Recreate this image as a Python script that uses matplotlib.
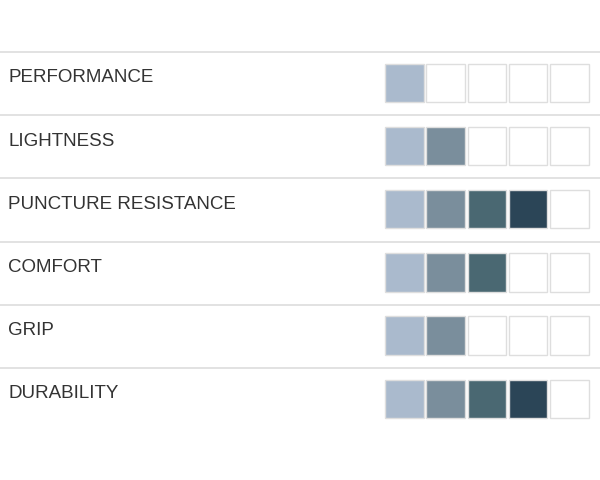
import matplotlib
matplotlib.use("Agg")
import matplotlib.pyplot as plt
from matplotlib.patches import Rectangle

# Data
categories = ["PERFORMANCE", "LIGHTNESS", "PUNCTURE RESISTANCE", "COMFORT", "GRIP", "DURABILITY"]
ratings = [1, 2, 4, 3, 2, 4]
max_rating = 5
level_colors = ["#aabacd", "#7a8e9c", "#4a6872", "#2b4557", "#1f3444"]

# Layout (pixel units)
W, H = 600, 481
row_top = 53
row_pitch = 63.2
box_x0 = 385
box_pitch = 41.3
box_size = 38.5

fig = plt.figure(figsize=(W / 100, H / 100), dpi=100)
ax = fig.add_axes([0, 0, 1, 1])
ax.set_xlim(0, W)
ax.set_ylim(H, 0)
ax.axis("off")

for i, (name, score) in enumerate(zip(categories, ratings)):
    y = row_top + i * row_pitch
    # separator line above each row
    ax.plot([0, W], [y, y], color="#dddddd", linewidth=1.2, solid_capstyle="butt")
    ax.text(8, y + 16.5, name, fontsize=13.5, family="Liberation Sans",
            color="#333333", va="top", ha="left")
    for j in range(max_rating):
        face = level_colors[j] if j < score else "white"
        ax.add_patch(Rectangle((box_x0 + j * box_pitch, y + 11.5), box_size, box_size,
                               facecolor=face, edgecolor="#dedede", linewidth=1))

fig.savefig("out.png", dpi=100, facecolor="white")
